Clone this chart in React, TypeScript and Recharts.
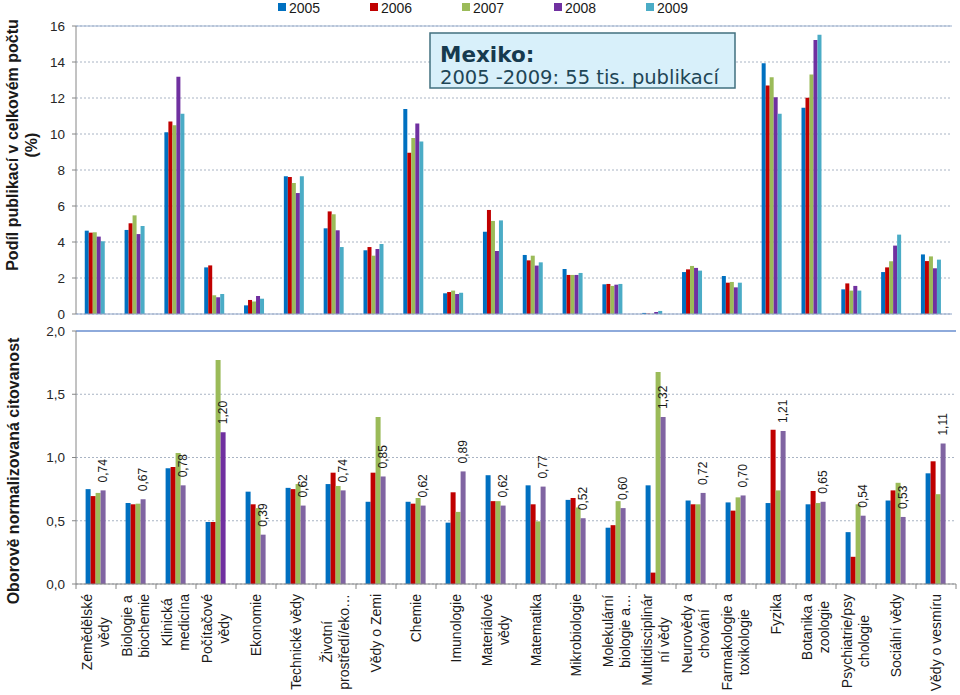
import {
  Bar,
  BarChart,
  CartesianGrid,
  Cell,
  LabelList,
  ReferenceLine,
  XAxis,
  YAxis,
} from 'recharts';

const categories = [
  'Zemědělské\nvědy',
  'Biologie a\nbiochemie',
  'Klinická\nmedicína',
  'Počítačové\nvědy',
  'Ekonomie',
  'Technické vědy',
  'Životní\nprostředí/eko…',
  'Vědy o Zemi',
  'Chemie',
  'Imunologie',
  'Materiálové\nvědy',
  'Matematika',
  'Mikrobiologie',
  'Molekulární\nbiologie a…',
  'Multidisciplinár\nní vědy',
  'Neurovědy a\nchování',
  'Farmakologie a\ntoxikologie',
  'Fyzika',
  'Botanika a\nzoologie',
  'Psychiatrie/psy\nchologie',
  'Sociální vědy',
  'Vědy o vesmíru',
];

const years = ['2005', '2006', '2007', '2008', '2009'];
const yearColors = ['#0070C0', '#C00000', '#9BBB59', '#7030A0', '#4BACC6'];

// podíl publikací (%)
const share2005 = [4.63, 4.67, 10.1, 2.59, 0.48, 7.65, 4.76, 3.54, 11.39, 1.15, 4.57, 3.28, 2.5, 1.65, 0.06, 2.33, 2.11, 13.93, 11.46, 1.37, 2.33, 3.31];
const share2006 = [4.52, 5.04, 10.7, 2.7, 0.78, 7.61, 5.7, 3.72, 8.96, 1.22, 5.78, 2.98, 2.17, 1.67, 0.02, 2.48, 1.74, 12.7, 12.02, 1.7, 2.59, 2.94];
const share2007 = [4.54, 5.48, 10.48, 1.04, 0.7, 7.28, 5.54, 3.24, 9.78, 1.3, 5.17, 3.24, 2.17, 1.56, 0.01, 2.67, 1.78, 13.15, 13.3, 1.3, 2.93, 3.2];
const share2008 = [4.3, 4.44, 13.18, 0.93, 1.0, 6.72, 4.65, 3.61, 10.59, 1.11, 3.5, 2.69, 2.17, 1.63, 0.11, 2.56, 1.48, 12.04, 15.22, 1.56, 3.8, 2.54];
const share2009 = [4.04, 4.89, 11.13, 1.11, 0.85, 7.65, 3.72, 3.89, 9.59, 1.18, 5.2, 2.87, 2.28, 1.67, 0.17, 2.41, 1.74, 11.13, 15.52, 1.3, 4.41, 3.02];
const shareSeries = [share2005, share2006, share2007, share2008, share2009];

// oborově normalizovaná citovanost
const cit2005 = [0.75, 0.64, 0.915, 0.49, 0.73, 0.76, 0.79, 0.65, 0.65, 0.485, 0.86, 0.78, 0.665, 0.445, 0.78, 0.66, 0.645, 0.64, 0.63, 0.41, 0.66, 0.875];
const cit2006 = [0.695, 0.63, 0.925, 0.49, 0.63, 0.75, 0.88, 0.88, 0.635, 0.725, 0.655, 0.63, 0.68, 0.465, 0.09, 0.63, 0.58, 1.22, 0.735, 0.215, 0.74, 0.97];
const cit2007 = [0.72, 0.635, 1.035, 1.77, 0.6, 0.79, 0.775, 1.32, 0.68, 0.57, 0.655, 0.495, 0.605, 0.655, 1.675, 0.63, 0.685, 0.74, 0.64, 0.63, 0.8, 0.71];
const cit2008 = [0.74, 0.67, 0.78, 1.2, 0.39, 0.62, 0.74, 0.85, 0.62, 0.89, 0.62, 0.77, 0.52, 0.6, 1.32, 0.72, 0.7, 1.21, 0.65, 0.54, 0.53, 1.11];
const citColors = ['#0070C0', '#C00000', '#9BBB59', '#8064A2'];
const citHighlight = 3; // Počítačové vědy – tmavší fialová

const shareTicks = [0, 2, 4, 6, 8, 10, 12, 14, 16];
const citTicks = [0, 0.5, 1, 1.5, 2];

const topData = categories.map((name, i) => {
  const row: Record<string, string | number> = { name };
  years.forEach((y, s) => (row[y] = shareSeries[s][i]));
  return row;
});

const bottomData = categories.map((name, i) => ({
  name,
  c1: cit2005[i],
  c2: cit2006[i],
  c3: cit2007[i],
  c4: cit2008[i],
}));

const FONT = "'Liberation Sans', Arial, sans-serif";
const comma = (v: number, d: number) => v.toFixed(d).replace('.', ',');

let ctx: CanvasRenderingContext2D | null = null;
function textWidth(s: string) {
  if (!ctx) ctx = document.createElement('canvas').getContext('2d');
  if (!ctx) return s.length * 7;
  ctx.font = `14px ${FONT}`;
  return ctx.measureText(s).width;
}

function CategoryTick(props: any) {
  const { x, y, payload, index } = props;
  const half = payload.offset || 20;
  const axisY = y - 8;
  const lines = String(payload.value).split('\n');
  const maxW = Math.max(...lines.map(textWidth));
  const cy = axisY + 10 + maxW / 2;
  return (
    <g>
      <line x1={x - half} x2={x - half} y1={axisY} y2={axisY + 5} stroke="#868686" />
      {index === categories.length - 1 && (
        <line x1={x + half} x2={x + half} y1={axisY} y2={axisY + 5} stroke="#868686" />
      )}
      {lines.map((l, i) => {
        const lx = x + (i - (lines.length - 1) / 2) * 17;
        return (
          <text
            key={i}
            x={lx}
            y={cy}
            transform={`rotate(-90, ${lx}, ${cy})`}
            textAnchor="middle"
            dominantBaseline="central"
            fontSize={14}
            fontFamily={FONT}
            fill="#1a1a1a"
          >
            {l}
          </text>
        );
      })}
    </g>
  );
}

function CitLabel(props: any) {
  const { x, y, width, value } = props;
  const cx = x + width / 2;
  const cy = y - 8;
  return (
    <text
      x={cx}
      y={cy}
      transform={`rotate(-90, ${cx}, ${cy})`}
      textAnchor="start"
      dominantBaseline="central"
      fontSize={12}
      fontFamily={FONT}
      fill="#1a1a1a"
    >
      {comma(Number(value), 2)}
    </text>
  );
}

const tickStyle = { fill: '#262626', fontSize: 13.5, fontFamily: FONT };

function AxisTitle({ x, y, text }: { x: number; y: number; text: string }) {
  return (
    <text
      x={x}
      y={y}
      transform={`rotate(-90, ${x}, ${y})`}
      textAnchor="middle"
      dominantBaseline="central"
      fontSize={16}
      fontWeight="bold"
      fontFamily={FONT}
      fill="#1a1a1a"
    >
      {text}
    </text>
  );
}

export default function App() {
  return (
    <div
      style={{
        position: 'absolute',
        left: 0,
        top: 0,
        width: 960,
        height: 695,
        background: '#fff',
        fontFamily: FONT,
      }}
    >
      <div style={{ position: 'absolute', left: 0, top: 320 }}>
        <BarChart
          width={960}
          height={375}
          data={bottomData}
          margin={{ top: 11, right: 4, left: 0, bottom: 0 }}
          barGap={0}
          barCategoryGap="24%"
        >
          <CartesianGrid vertical={false} strokeDasharray="2 2" stroke="#A9B4C4" />
          <XAxis
            dataKey="name"
            interval={0}
            height={111}
            tickLine={false}
            tickSize={5}
            tickMargin={3}
            tick={<CategoryTick />}
            axisLine={{ stroke: '#868686' }}
          />
          <YAxis
            width={76}
            domain={[0, 2]}
            ticks={citTicks}
            interval={0}
            tick={tickStyle}
            tickFormatter={(v: number) => comma(v, 1)}
            tickSize={4}
            tickMargin={7}
            tickLine={{ stroke: '#868686' }}
            axisLine={{ stroke: '#868686' }}
          />
          <YAxis
            yAxisId="r"
            orientation="right"
            width={0}
            domain={[0, 1]}
            tick={false}
            tickLine={false}
            axisLine={{ stroke: '#8EAADB', strokeWidth: 1.5 }}
          />
          <ReferenceLine y={2} stroke="#8EAADB" strokeWidth={2} />
          <Bar dataKey="c1" fill={citColors[0]} isAnimationActive={false} />
          <Bar dataKey="c2" fill={citColors[1]} isAnimationActive={false} />
          <Bar dataKey="c3" fill={citColors[2]} isAnimationActive={false} />
          <Bar dataKey="c4" fill={citColors[3]} isAnimationActive={false}>
            {bottomData.map((_, i) => (
              <Cell key={i} fill={i === citHighlight ? '#7030A0' : citColors[3]} />
            ))}
            <LabelList dataKey="c4" content={<CitLabel />} />
          </Bar>
        </BarChart>
      </div>

      <div style={{ position: 'absolute', left: 0, top: 0 }}>
        <BarChart
          width={960}
          height={330}
          data={topData}
          margin={{ top: 26, right: 8, left: 0, bottom: 15 }}
          barGap={0}
          barCategoryGap="22%"
        >
          <CartesianGrid vertical={false} strokeDasharray="2 2" stroke="#A9B4C4" />
          <XAxis
            dataKey="name"
            tick={false}
            tickLine={false}
            height={1}
            axisLine={{ stroke: '#8EA4C8' }}
          />
          <YAxis
            width={76}
            domain={[0, 16]}
            ticks={shareTicks}
            interval={0}
            tick={tickStyle}
            tickSize={4}
            tickMargin={7}
            tickLine={{ stroke: '#868686' }}
            axisLine={{ stroke: '#868686' }}
          />
          <YAxis
            yAxisId="r"
            orientation="right"
            width={0}
            domain={[0, 1]}
            tick={false}
            tickLine={false}
            axisLine={{ stroke: '#9BB0CF' }}
          />
          <ReferenceLine y={16} stroke="#9BB0CF" />
          {years.map((y, s) => (
            <Bar key={y} dataKey={y} fill={yearColors[s]} isAnimationActive={false} />
          ))}
        </BarChart>
      </div>

      <svg
        width={960}
        height={695}
        style={{ position: 'absolute', left: 0, top: 0, pointerEvents: 'none' }}
      >
        {/* legenda */}
        {years.map((y, s) => (
          <g key={y} transform={`translate(${278 + s * 92}, 0)`}>
            <rect x={0} y={3} width={8} height={8} fill={yearColors[s]} />
            <text x={11} y={12.5} fontSize={14} fontFamily={FONT} fill="#1a1a1a">
              {y}
            </text>
          </g>
        ))}

        {/* popisky os */}
        <AxisTitle x={12} y={145} text="Podíl publikací v celkovém počtu" />
        <AxisTitle x={31} y={145} text="(%)" />
        <AxisTitle x={13} y={471} text="Oborově normalizovaná citovanost" />

        {/* rámeček Mexiko */}
        <rect x={430} y={33} width={305} height={55} fill="#D8F0FA" stroke="#41707F" strokeWidth={1.5} />
        <text x={440} y={61.7} fontSize={21.5} fontWeight="bold" fontFamily="'DejaVu Sans', Verdana, sans-serif" fill="#163A4E">
          Mexiko:
        </text>
        <text x={440} y={84.3} fontSize={19.5} fontFamily="'DejaVu Sans', Verdana, sans-serif" fill="#1E4656">
          2005 -2009: 55 tis. publikací
        </text>
      </svg>
    </div>
  );
}
